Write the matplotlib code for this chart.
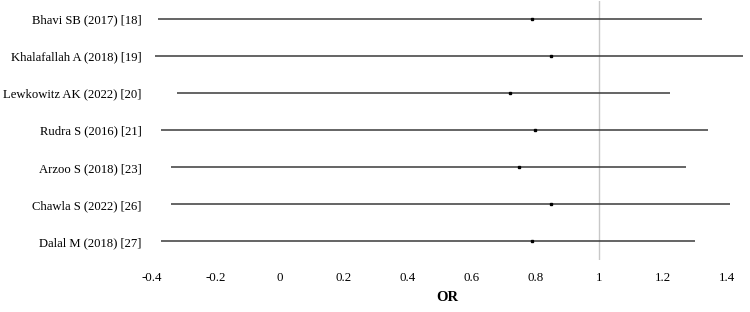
import matplotlib.pyplot as plt
import numpy as np

studies = [
    'Bhavi SB (2017) [18]',
    'Khalafallah A (2018) [19]',
    'Lewkowitz AK (2022) [20]',
    'Rudra S (2016) [21]',
    'Arzoo S (2018) [23]',
    'Chawla S (2022) [26]',
    'Dalal M (2018) [27]',
]
odds_ratio = [0.79, 0.85, 0.72, 0.80, 0.75, 0.85, 0.79]
ci_low = [-0.38, -0.39, -0.32, -0.37, -0.34, -0.34, -0.37]
ci_high = [1.32, 1.45, 1.22, 1.34, 1.27, 1.41, 1.30]
xticks = [-0.4, -0.2, 0, 0.2, 0.4, 0.6, 0.8, 1, 1.2, 1.4]

plt.rcParams['font.family'] = ['Liberation Serif', 'DejaVu Serif']

fig = plt.figure(figsize=(7.5, 3.12), dpi=100)
ax = fig.add_axes([0.202, 0.167, 0.789, 0.831])

y = np.arange(len(studies))
ax.axvline(1, color='#c8c8c8', lw=1, zorder=1)
ax.hlines(y, ci_low, ci_high, color='#3a3a3a', lw=1.1, zorder=2)
ax.plot(odds_ratio, y, 's', color='black', ms=1.7, zorder=3)

ax.set_xlim(-0.4, 1.45)
ax.set_ylim(len(studies) - 0.5, -0.5)
ax.set_yticks(y)
ax.set_yticklabels(studies, fontsize=9.1)
ax.set_xticks(xticks)
ax.set_xticklabels([f'{t:g}' for t in xticks], fontsize=9.3)
ax.tick_params(length=0)
ax.tick_params(axis='y', pad=7)
ax.tick_params(axis='x', pad=9)
ax.set_xlabel('OR', fontsize=10.5, fontweight='bold', labelpad=5)
for s in ax.spines.values():
    s.set_visible(False)

fig.savefig('out.png', dpi=100)
